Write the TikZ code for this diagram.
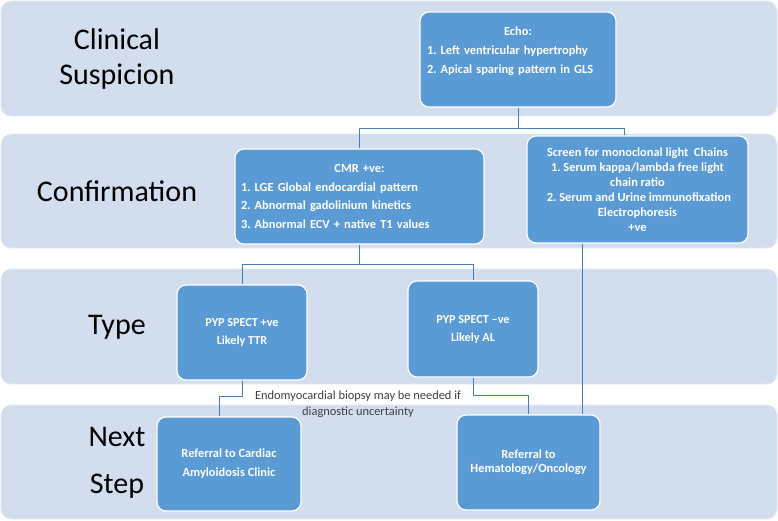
\documentclass[tikz,border=0pt]{standalone}
\usepackage{fontspec}
\setmainfont{Carlito}
\usepackage{tikz}
\frenchspacing
\definecolor{laneFill}{RGB}{210,221,238}
\definecolor{boxFill}{RGB}{91,155,213}
\definecolor{linkCol}{RGB}{70,125,185}
\definecolor{noteCol}{RGB}{64,64,64}
\newcommand{\laneL}{1}
\newcommand{\laneR}{777}

\begin{document}
\begin{tikzpicture}[x=1pt,y=-1pt,
    lane/.style={fill=laneFill, draw=white!40!laneFill, line width=0.8pt, rounded corners=10pt},
    lanetitle/.style={font=\fontsize{30}{35}\selectfont, align=center, text=black},
    stepbox/.style={draw=white, line width=1.2pt, fill=boxFill, rounded corners=9pt, text=white, inner sep=0pt,
        font=\bfseries\fontsize{12.4}{19}\selectfont},
    note/.style={font=\fontsize{12.4}{16}\selectfont, align=center, text=noteCol},
    link/.style={draw=linkCol, line width=0.9pt}]

        \useasboundingbox (0,0) rectangle (778,521);

        % Draw the four lanes
        \draw[lane] (\laneL,1) rectangle (\laneR,116);
        \draw[lane] (\laneL,134) rectangle (\laneR,248);
        \draw[lane] (\laneL,269) rectangle (\laneR,384);
        \draw[lane] (\laneL,405) rectangle (\laneR,519);

        % Lane titles
        \node[lanetitle] (tClin) at (117,59) {Clinical\\Suspicion};
        \node[lanetitle] (tConf) at (117,191) {Confirmation};
        \node[lanetitle] (tType) at (117,327) {Type};
        \node[lanetitle, font=\fontsize{30}{47}\selectfont] (tNext) at (117,463) {Next\\Step};

        % Boxes
        \node[stepbox, minimum width=196pt, minimum height=95pt, text width=182pt] (echo) at (518,59.5)
            {\centering Echo:\par\raggedright 1. Left ventricular hypertrophy\par 2. Apical sparing pattern in GLS\par\mbox{}};
        \node[stepbox, minimum width=249pt, minimum height=95pt, text width=237pt,
            font=\bfseries\fontsize{12.4}{18.5}\selectfont] (cmr) at (359.5,196.5)
            {\centering CMR +ve:\par\raggedright 1. LGE Global endocardial pattern\par 2. Abnormal gadolinium kinetics\par 3. Abnormal ECV + native T1 values};
        \node[stepbox, align=center, minimum width=221pt, minimum height=107pt,
            font=\bfseries\fontsize{12.4}{15}\selectfont] (screen) at (637.5,189.5)
            {Screen for monoclonal light~ Chains\\1. Serum kappa/lambda free light\\chain ratio\\~2. Serum and Urine immunofixation\\Electrophoresis\\+ve};
        \node[stepbox, align=center, minimum width=130pt, minimum height=95pt,
            font=\bfseries\fontsize{12.2}{18}\selectfont] (pypPos) at (242,332.5) {PYP SPECT +ve\\Likely TTR};
        \node[stepbox, align=center, minimum width=130pt, minimum height=96pt,
            font=\bfseries\fontsize{12.2}{18}\selectfont] (pypNeg) at (473,329) {PYP SPECT –ve\\Likely AL};
        \node[stepbox, align=center, minimum width=144pt, minimum height=94pt] (cardiac) at (229,464)
            {Referral to Cardiac\\Amyloidosis Clinic};
        \node[stepbox, align=center, minimum width=143pt, minimum height=95pt,
            font=\bfseries\fontsize{12.4}{14}\selectfont] (hema) at (528.5,462.5) {Referral to\\Hematology/Oncology};

        % Note between the lower lanes
        \node[note] (biopsy) at (358,404) {Endomyocardial biopsy may be needed if\\diagnostic uncertainty};

        % Connectors
        \coordinate (echoSplit) at (518,128);
        \draw[link] (echo.south) -- (echoSplit) -| (cmr.north);
        \draw[link] (echoSplit) -| ([xshift=-13.5pt]screen.north);
        \coordinate (cmrSplit) at (359.5,264);
        \draw[link] (cmr.south) -- (cmrSplit) -| (pypPos.north);
        \draw[link] (cmrSplit) -| (pypNeg.north);
        \draw[link] (pypPos.south) -- ++(0,16) -| ([xshift=-10pt]cardiac.north);
        \draw[link] (pypNeg.south) -- ++(0,18) -| (hema.north);
        \draw[link] ([xshift=-55.5pt]screen.south) -- ([xshift=-55.5pt]screen.south |- hema.north);
\end{tikzpicture}
\end{document}
